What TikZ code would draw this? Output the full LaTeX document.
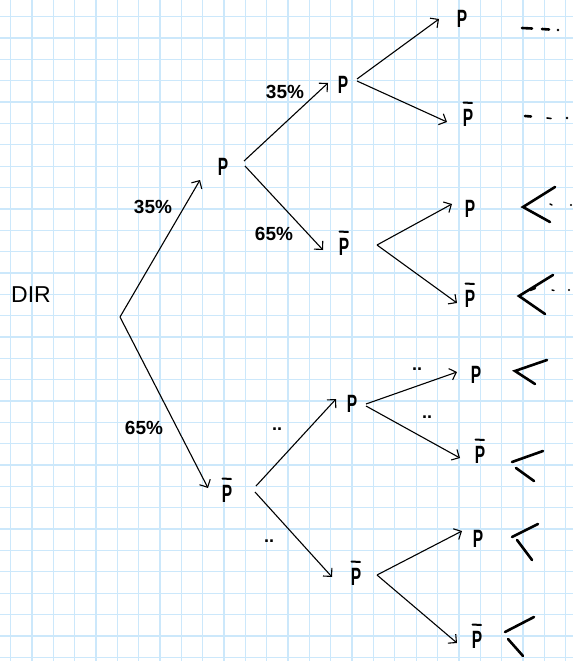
\documentclass[tikz,border=0pt]{standalone}
\usepackage{fontspec}
\usepackage{graphicx}
\setmainfont{Liberation Sans}
\usetikzlibrary{arrows.meta,calc}
\newcommand\myP{\scalebox{0.62}[1]{P}}
\begin{document}
\begin{tikzpicture}[x=1pt,y=-1pt,
  gridline/.style={draw={rgb,255:red,204;green,232;blue,251},line width=1.3pt},
  branch/.style={draw=black,line width=1.1pt,-{Straight Barb[length=6pt,width=12pt,line width=1.1pt]}},
  letter/.style={font=\fontsize{25}{25}\selectfont\bfseries,inner sep=0pt,anchor=base},
  barline/.style={draw=black,line width=2pt,line cap=round},
  pct/.style={font=\fontsize{19}{19}\selectfont\bfseries,inner sep=0pt,anchor=base},
  dotlab/.style={font=\fontsize{18}{18}\selectfont\bfseries,inner sep=0pt,anchor=base},
  handmark/.style={draw=black,line width=2.6pt,line cap=round}]
\useasboundingbox (0,0) rectangle (573,661);
\fill[white] (0,0) rectangle (573,661);
\foreach \i in {0,...,26} \draw[gridline] (10.5+21.35*\i,0) -- (10.5+21.35*\i,661);
\foreach \j in {0,...,30} \draw[gridline] (0,16.7+21.35*\j) -- (573,16.7+21.35*\j);

% labels
\node[font=\fontsize{23}{23}\selectfont,inner sep=0pt,anchor=base] (dir) at (31,302) {DIR};
\node[letter] (P1) at (223,175) {\myP};
\node[letter] (Pb1) at (227,502) {\myP};
\node[letter] (P2) at (343,93) {\myP};
\node[letter] (Pb2) at (344,255) {\myP};
\node[letter] (P3) at (352,412) {\myP};
\node[letter] (Pb3) at (356,585) {\myP};
\node[letter] (P4) at (462,28) {\myP};
\node[letter] (Pb4) at (468,126) {\myP};
\node[letter] (P5) at (470,217) {\myP};
\node[letter] (Pb5) at (470,307) {\myP};
\node[letter] (P6) at (476,383) {\myP};
\node[letter] (Pb6) at (480,463) {\myP};
\node[letter] (P7) at (478,547) {\myP};
\node[letter] (Pb7) at (477,648) {\myP};
% bars over P
\foreach \n in {Pb1,Pb2,Pb3,Pb4,Pb5,Pb6,Pb7}
  \draw[barline] ($(\n.base)+(-4.5,-23.5)$) -- ($(\n.base)+(4,-23)$);

\node[pct] (l1) at (153,213) {35\%};
\node[pct] (l2) at (144,434) {65\%};
\node[pct] (l3) at (285,99) {35\%};
\node[pct] (l4) at (274,240) {65\%};
\node[dotlab] (d1) at (277,430) {..};
\node[dotlab] (d2) at (269,542) {..};
\node[dotlab] (d3) at (417,370) {..};
\node[dotlab] (d4) at (427,418) {..};

% coordinates
\coordinate (r) at (120,317);
\coordinate (t1) at (200,180);
\coordinate (t2) at (208,488);
\coordinate (s1a) at (244,161); \coordinate (t3) at (328,83);
\coordinate (s1b) at (245,166); \coordinate (t4) at (323,250);
\coordinate (s2a) at (256,486); \coordinate (t5) at (336,399);
\coordinate (s2b) at (255,492); \coordinate (t6) at (332,577);
\coordinate (s3a) at (357,79);  \coordinate (t7) at (439,19);
\coordinate (s3b) at (357,81);  \coordinate (t8) at (447,122);
\coordinate (s4) at (377,245);  \coordinate (t9) at (452,204);
                                \coordinate (t10) at (457,303);
\coordinate (s5a) at (366,404); \coordinate (t11) at (457,372);
\coordinate (s5b) at (366,406); \coordinate (t12) at (460,458);
\coordinate (s6) at (377,575);  \coordinate (t13) at (462,531);
                                \coordinate (t14) at (457,643);

\draw[branch] (r) -- (t1);
\draw[branch] (r) -- (t2);
\draw[branch] (s1a) -- (t3);
\draw[branch] (s1b) -- (t4);
\draw[branch] (s2a) -- (t5);
\draw[branch] (s2b) -- (t6);
\draw[branch] (s3a) -- (t7);
\draw[branch] (s3b) -- (t8);
\draw[branch] (s4) -- (t9);
\draw[branch] (s4) -- (t10);
\draw[branch] (s5a) -- (t11);
\draw[branch] (s5b) -- (t12);
\draw[branch] (s6) -- (t13);
\draw[branch] (s6) -- (t14);

% hand marks
\draw[handmark] (522,28) -- (532,28.5);
\draw[handmark] (542,29) -- (549,29.5);
\fill (558,30) circle (1.4);
\draw[handmark] (525,116) -- (531,116.5);
\draw[handmark,line width=1.6pt] (547,118) -- (551,118.5);
\fill (567,118) circle (1.4);

\draw[handmark] (555,187) -- (523,207) -- (550,222);
\draw[handmark,line width=1.4pt] (550,204) -- (552,205);
\fill (571,205) circle (1.1);
\draw[handmark] (553,275) -- (519,296) -- (545,314);
\draw[handmark] (530,290) -- (535,288);
\draw[handmark,line width=1.4pt] (552,290) -- (554,290.5);
\fill (569,290) circle (1.1);

\draw[handmark] (547,360) -- (515,371) -- (535,384);
\draw[handmark] (543,451) -- (512,462);
\draw[handmark] (516,468) -- (534,481);
\draw[handmark] (538,524) -- (512,537);
\draw[handmark] (517,540) -- (532,560);
\draw[handmark] (534,617) -- (505,632);
\draw[handmark] (508,639) -- (523,656);
\end{tikzpicture}
\end{document}
